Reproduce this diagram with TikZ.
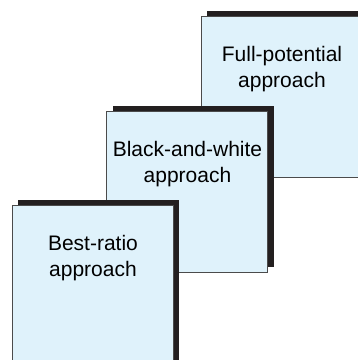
\documentclass[tikz,border=0pt]{standalone}
\usepackage{fontspec}
\setmainfont{Liberation Sans}
\usetikzlibrary{shadows}
\definecolor{boxfill}{RGB}{223,242,251}
\definecolor{boxline}{RGB}{75,75,75}
\definecolor{shadowblack}{RGB}{35,31,32}
\begin{document}
\begin{tikzpicture}[x=1pt, y=-1pt,
  every node/.style={font=\fontsize{21}{26}\selectfont},
  stepbox/.style={draw=boxline, line width=1pt, fill=boxfill, anchor=north west,
    inner sep=0pt, minimum width=161pt, text width=161pt, align=center,
    text height=45pt, text depth=116pt,
    drop shadow={shadow xshift=6pt, shadow yshift=6pt, fill=shadowblack, opacity=1}}]
\clip (0,0) rectangle (358,360);
\node[stepbox] (full) at (201,16) {Full-potential\\approach};
\node[stepbox] (bw) at (106.5,111) {Black-and-white\\approach};
\node[stepbox] (best) at (12,205) {Best-ratio\\approach};
\end{tikzpicture}
\end{document}
